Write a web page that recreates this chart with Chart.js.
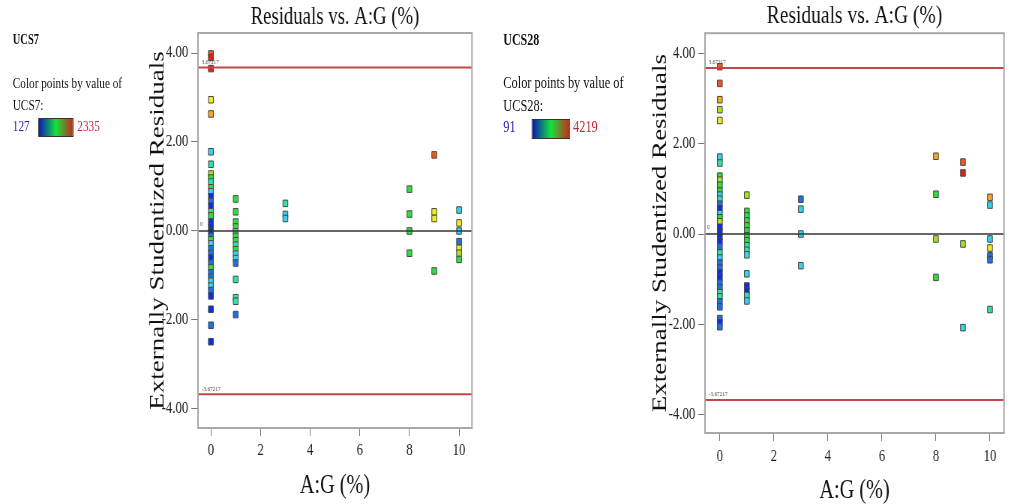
<!DOCTYPE html>
<html>
<head>
<meta charset="utf-8">
<script src="https://cdn.jsdelivr.net/npm/chart.js@4.4.1/dist/chart.umd.min.js"></script>
<style>
  body { margin: 0; background: #fff; overflow: hidden; font-family: 'Liberation Serif', serif; }
  /* the source figure is squeezed sideways, so the whole page is drawn wide and scaled */
  #page { position: absolute; left: 0; top: 0; width: 1348px; height: 504px; transform: scaleX(0.75); transform-origin: 0 0; }
  .t { position: absolute; white-space: nowrap; line-height: 1; color: #111; }
  .bar { position: absolute; box-sizing: border-box; border: 1px solid #333;
         background: linear-gradient(to right, #0c18b8, #12e23c 50%, #c82a18); }
  canvas { position: absolute; top: 0; }
</style>
</head>
<body>
<div id="page">
  <div class="t" style="left:17px;top:33px;font-size:14px;font-weight:bold">UCS7</div>
  <div class="t" style="left:17px;top:76px;font-size:15px">Color points by value of</div>
  <div class="t" style="left:17px;top:98px;font-size:15px">UCS7:</div>
  <div class="t" style="left:17px;top:119px;font-size:15px;color:#2626b8">127</div>
  <div class="bar" style="left:51px;top:118px;width:47px;height:19px"></div>
  <div class="t" style="left:103px;top:119px;font-size:15px;color:#c8283c">2335</div>

  <div class="t" style="left:671px;top:32px;font-size:16px;font-weight:bold">UCS28</div>
  <div class="t" style="left:671px;top:75px;font-size:16.5px">Color points by value of</div>
  <div class="t" style="left:671px;top:98px;font-size:16.5px">UCS28:</div>
  <div class="t" style="left:671px;top:119px;font-size:16.5px;color:#2626b8">91</div>
  <div class="bar" style="left:709px;top:119px;width:51px;height:20px"></div>
  <div class="t" style="left:764px;top:119px;font-size:16.5px;color:#c8283c">4219</div>

  <canvas id="c7" width="470" height="504" style="left:180px"></canvas>
  <canvas id="c28" width="492" height="504" style="left:856px"></canvas>
</div>
<script>
var xTicks = [0, 2, 4, 6, 8, 10];
var yTicks = [-4, -2, 0, 2, 4];
var limit = 3.67217;

// UCS7 panel: A:G level, residual, colour band of the UCS7 value
var ucs7X = [
  0, 0, 0, 0, 0, 0, 0, 0, 0, 0, 0, 0, 0, 0, 0, 0, 0, 0, 0, 0, 0, 0, 0, 0, 0, 0, 0, 0, 0, 0, 0, 0, 0, 0, 0, 0, 0,
  1, 1, 1, 1, 1, 1, 1, 1, 1, 1, 1, 1, 1, 1, 1, 1,
  3, 3, 3,
  8, 8, 8, 8,
  9, 9, 9, 9,
  10, 10, 10, 10, 10, 10, 10
];
var ucs7Y = [
  3.98, 3.90, 3.65, 2.95, 2.63, 1.78, 1.50, 1.28, 1.19, 1.10, 0.97, 0.88, 0.77, 0.66, 0.56, 0.43, 0.34, 0.20, 0.09,
  -0.02, -0.12, -0.20, -0.29, -0.40, -0.50, -0.61, -0.72, -0.83, -0.94, -1.04, -1.13, -1.24, -1.34, -1.46, -1.76, -2.12, -2.49,
  0.72, 0.43, 0.20, 0.09, -0.02, -0.12, -0.22, -0.32, -0.42, -0.52, -0.62, -0.72, -1.09, -1.50, -1.58, -1.88,
  0.62, 0.37, 0.28,
  0.94, 0.38, 0.00, -0.50,
  1.71, 0.43, 0.28, -0.90,
  0.47, 0.18, 0.00, -0.24, -0.39, -0.50, -0.64
];
var ucs7Level = [
  'n', 'r', 'r', 'y', 'o', 'c', 't', 'l', 'g', 't', 'g', 'c', 'b', 'm', 'b', 't', 'g', 'b', 'b',
  'b', 'm', 'g', 'c', 'm', 'm', 'b', 'm', 'g', 'm', 'm', 'c', 'c', 'm', 'b', 'b', 'm', 'b',
  'g', 'g', 'g', 'g', 't', 'g', 'g', 't', 'g', 'c', 'c', 'm', 't', 't', 't', 'm',
  't', 'c', 'c',
  'g', 'g', 'g', 'g',
  'n', 'y', 'y', 'g',
  'c', 'y', 'c', 'm', 'y', 'l', 'g'
];

// UCS28 panel
var ucs28X = [
  0, 0, 0, 0, 0, 0, 0, 0, 0, 0, 0, 0, 0, 0, 0, 0, 0, 0, 0, 0, 0, 0, 0, 0, 0, 0, 0, 0, 0, 0, 0, 0, 0, 0, 0, 0, 0, 0,
  1, 1, 1, 1, 1, 1, 1, 1, 1, 1, 1, 1, 1, 1, 1, 1,
  3, 3, 3, 3,
  8, 8, 8, 8,
  9, 9, 9, 9,
  10, 10, 10, 10, 10, 10, 10
];
var ucs28Y = [
  3.70, 3.33, 2.97, 2.75, 2.51, 1.70, 1.57, 1.28, 1.19, 1.08, 0.95, 0.86, 0.77, 0.66, 0.56, 0.45, 0.36, 0.27, 0.15, 0.05,
  -0.06, -0.17, -0.28, -0.42, -0.53, -0.64, -0.75, -0.86, -0.97, -1.08, -1.19, -1.30, -1.39, -1.50, -1.61, -1.87, -1.96, -2.05,
  0.86, 0.50, 0.40, 0.29, 0.18, 0.07, -0.04, -0.15, -0.26, -0.36, -0.46, -0.88, -1.15, -1.26, -1.36, -1.48,
  0.77, 0.55, 0.00, -0.70,
  1.72, 0.88, -0.11, -0.96,
  1.59, 1.35, -0.22, -2.07,
  0.81, 0.64, -0.11, -0.31, -0.48, -0.57, -1.67
];
var ucs28Level = [
  'n', 'n', 'o', 'l', 'y', 'c', 't', 'g', 'l', 'g', 'g', 'c', 't', 'm', 'b', 'c', 'g', 'l', 'b', 'b',
  'b', 'b', 'm', 't', 'c', 'm', 'm', 'b', 'b', 'm', 'm', 't', 't', 'm', 'm', 'm', 'b', 'm',
  'l', 'g', 'g', 'g', 'g', 'g', 'g', 'g', 't', 't', 'c', 'c', 'b', 'b', 't', 'c',
  'm', 'c', 'c', 'c',
  'o', 'g', 'l', 'g',
  'n', 'r', 'l', 'c',
  'o', 'c', 'c', 'y', 'm', 'm', 't'
];

var palette = {
  b: '#0b2ee6', m: '#1f6fe8', c: '#35d3ec', t: '#2fe3a2', g: '#2fdf3c',
  l: '#a8e424', y: '#f0ec26', o: '#f4a824', n: '#f0581e', r: '#e41e1a'
};

Chart.defaults.font.family = "'Liberation Serif', serif";

// zero line, +/- limit lines and the plot frame
var refLines = {
  id: 'refLines',
  afterDatasetsDraw: function (chart) {
    var ctx = chart.ctx, a = chart.chartArea, y = chart.scales.y;
    ctx.save();
    var y0 = y.getPixelForValue(0);
    ctx.strokeStyle = '#333';
    ctx.lineWidth = 1.5;
    ctx.beginPath(); ctx.moveTo(a.left, y0); ctx.lineTo(a.right, y0); ctx.stroke();

    ctx.strokeStyle = '#c24848';
    ctx.lineWidth = 2;
    [limit, -limit].forEach(function (v) {
      var py = y.getPixelForValue(v);
      ctx.beginPath(); ctx.moveTo(a.left, py); ctx.lineTo(a.right, py); ctx.stroke();
    });

    ctx.fillStyle = '#444';
    ctx.font = "7px 'Liberation Serif'";
    ctx.textBaseline = 'bottom';
    ctx.fillText(String(limit), a.left + 5, y.getPixelForValue(limit) - 2);
    ctx.fillText('0', a.left + 3, y0 - 3);
    ctx.fillText(String(-limit), a.left + 5, y.getPixelForValue(-limit) - 2);

    ctx.strokeStyle = '#a8a8a8';
    ctx.lineWidth = 2;
    ctx.strokeRect(a.left, a.top, a.right - a.left, a.bottom - a.top);
    ctx.restore();
  }
};

function buildChart(id, xs, ys, levels, p) {
  return new Chart(document.getElementById(id), {
    type: 'scatter',
    data: {
      datasets: [{
        data: xs.map(function (x, i) { return { x: x, y: ys[i] }; }),
        pointStyle: 'rect',
        pointRadius: 4.6,
        pointHoverRadius: 4.6,
        pointBackgroundColor: levels.map(function (k) { return palette[k]; }),
        pointBorderColor: '#474747',
        pointBorderWidth: 1
      }]
    },
    options: {
      responsive: false,
      animation: false,
      layout: { padding: { left: 0, right: p.padRight, top: 0, bottom: 0 } },
      plugins: {
        legend: { display: false },
        tooltip: { enabled: false },
        title: {
          display: true,
          text: 'Residuals vs. A:G (%)',
          fullSize: false,
          color: '#111',
          font: { size: p.titleSize, weight: 'normal' },
          padding: { top: p.titleTop, bottom: 1 }
        }
      },
      scales: {
        x: {
          type: 'linear',
          min: p.xMin, max: 10.52,
          afterBuildTicks: function (s) { s.ticks = xTicks.map(function (v) { return { value: v }; }); },
          afterFit: function (s) { s.height = p.xHeight; },
          border: { display: false },
          grid: { drawOnChartArea: false, tickLength: 8, color: '#777' },
          ticks: { color: '#222', font: { size: 17 }, padding: p.xPad },
          title: {
            display: true, text: 'A:G (%)', color: '#111',
            font: { size: 27, lineHeight: 1 },
            padding: { top: 0, bottom: p.xTitleBottom }
          }
        },
        y: {
          min: p.yMin, max: p.yMax,
          afterBuildTicks: function (s) { s.ticks = yTicks.map(function (v) { return { value: v }; }); },
          afterFit: function (s) { s.width = 84; },
          border: { display: false },
          grid: { drawOnChartArea: false, tickLength: 9, color: '#777' },
          ticks: { color: '#222', font: { size: 17 }, padding: 4, callback: function (v) { return v.toFixed(2); } },
          title: {
            display: true, text: 'Externally Studentized Residuals', color: '#111',
            font: { size: 27, lineHeight: 1.2 },
            padding: { top: p.yTitleTop, bottom: 0 }
          }
        }
      }
    },
    plugins: [refLines]
  });
}

buildChart('c7', ucs7X, ucs7Y, ucs7Level, {
  padRight: 20.7, titleSize: 25, titleTop: 2, xMin: -0.52, xHeight: 76, xPad: 4, xTitleBottom: 4.5,
  yMin: -4.43, yMax: 4.45, yTitleTop: 14.5
});
buildChart('c28', ucs28X, ucs28Y, ucs28Level, {
  padRight: 9.3, titleSize: 26, titleTop: 1, xMin: -0.55, xHeight: 71, xPad: 5, xTitleBottom: 0,
  yMin: -4.40, yMax: 4.44, yTitleTop: 9
});
</script>
</body>
</html>
